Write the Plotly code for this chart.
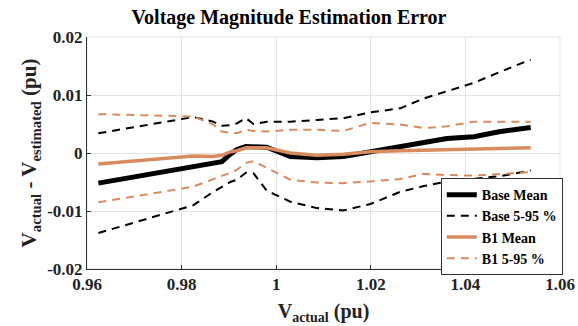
import plotly.graph_objects as go

v_actual = [0.9624, 0.9825, 0.9867, 0.9885, 0.9903, 0.9917, 0.9936, 0.9952, 0.998, 1.003,
            1.0086, 1.0142, 1.0199, 1.0262, 1.0312, 1.0361, 1.0418, 1.0474, 1.0538]
base_mean = [-0.0052, -0.0024, -0.0018, -0.0015, -0.0002, 0.0006, 0.0011, 0.0011, 0.0010, -0.0006,
             -0.0008, -0.0006, 0.0002, 0.0011, 0.0017, 0.0025, 0.0028, 0.0037, 0.0044]
base_p95 = [0.0034, 0.0062, 0.0054, 0.0047, 0.0048, 0.0051, 0.0060, 0.0050, 0.0054, 0.0054,
            0.0057, 0.0060, 0.0070, 0.0077, 0.0094, 0.0106, 0.0121, 0.0140, 0.0161]
base_p5 = [-0.0138, -0.0090, -0.0067, -0.0058, -0.0050, -0.0046, -0.0034, -0.0035, -0.0065, -0.0084,
           -0.0095, -0.0099, -0.0088, -0.0067, -0.0057, -0.0049, -0.0044, -0.0040, -0.0030]
b1_mean = [-0.0019, -0.0005, -0.0006, -0.0004, 0.0002, 0.0004, 0.0009, 0.0009, 0.0009, 0.0000,
           -0.0004, -0.0002, 0.0002, 0.0004, 0.0005, 0.0006, 0.0007, 0.0008, 0.0009]
b1_p95 = [0.0067, 0.0063, 0.0049, 0.0037, 0.0035, 0.0034, 0.0040, 0.0038, 0.0037, 0.0040,
          0.0040, 0.0038, 0.0052, 0.0049, 0.0043, 0.0046, 0.0054, 0.0054, 0.0054]
b1_p5 = [-0.0085, -0.0058, -0.0045, -0.0040, -0.0034, -0.0029, -0.0017, -0.0014, -0.0026, -0.0046,
         -0.0051, -0.0052, -0.0049, -0.0045, -0.0036, -0.0038, -0.0039, -0.0036, -0.0033]

x_ticks = [0.96, 0.98, 1.0, 1.02, 1.04, 1.06]
x_tick_text = ["0.96", "0.98", "1", "1.02", "1.04", "1.06"]
y_ticks = [-0.02, -0.01, 0.0, 0.01, 0.02]
y_tick_text = ["-0.02", "-0.01", "0", "0.01", "0.02"]

ORANGE = "#D98B5F"
FONT = "Liberation Serif"
DASH = "8px,6px"

fig = go.Figure()
fig.add_trace(go.Scatter(x=v_actual, y=base_mean, mode="lines", name="Base Mean",
                         line=dict(color="black", width=5)))
fig.add_trace(go.Scatter(x=v_actual, y=base_p95, mode="lines", name="Base 5-95 %",
                         line=dict(color="black", width=2, dash=DASH), legendgroup="b"))
fig.add_trace(go.Scatter(x=v_actual, y=base_p5, mode="lines", name="Base 5-95 %",
                         line=dict(color="black", width=2, dash=DASH), legendgroup="b", showlegend=False))
fig.add_trace(go.Scatter(x=v_actual, y=b1_mean, mode="lines", name="B1 Mean",
                         line=dict(color=ORANGE, width=3.5)))
fig.add_trace(go.Scatter(x=v_actual, y=b1_p95, mode="lines", name="B1 5-95 %",
                         line=dict(color=ORANGE, width=2, dash=DASH), legendgroup="o"))
fig.add_trace(go.Scatter(x=v_actual, y=b1_p5, mode="lines", name="B1 5-95 %",
                         line=dict(color=ORANGE, width=2, dash=DASH), legendgroup="o", showlegend=False))

fig.update_layout(
    width=578, height=326,
    margin=dict(l=87, r=18, t=37, b=57, autoexpand=False),
    paper_bgcolor="white", plot_bgcolor="white",
    font=dict(family=FONT, color="#222", size=15),
    title=dict(text="<b>Voltage Magnitude Estimation Error</b>", x=0.5, xanchor="center",
               y=0.948, yanchor="middle", font=dict(family=FONT, size=20, color="black")),
    showlegend=True,
    legend=dict(x=0.748, y=0.392, xanchor="left", yanchor="top",
                bgcolor="white", bordercolor="#333", borderwidth=1,
                font=dict(family=FONT, size=14, color="black", weight="bold"),
                tracegroupgap=0, itemwidth=30),
)
fig.update_xaxes(range=[0.96, 1.06], tickvals=x_ticks, ticktext=x_tick_text,
                 showgrid=True, gridcolor="#E3E3E3", gridwidth=1, automargin=False,
                 showline=True, linecolor="#333", linewidth=1, mirror=False,
                 ticks="inside", ticklen=4, tickcolor="#333",
                 tickfont=dict(family=FONT, size=17, color="#222", weight="bold"),
                 zeroline=False,
                 title=dict(text="<b>V<sub>actual</sub> (pu)</b>", standoff=10,
                            font=dict(family=FONT, size=20, color="#222")))
fig.update_yaxes(range=[-0.02, 0.02], tickvals=y_ticks, ticktext=y_tick_text,
                 showgrid=True, gridcolor="#E3E3E3", gridwidth=1, automargin=False,
                 showline=True, linecolor="#333", linewidth=1,
                 ticks="inside", ticklen=4, tickcolor="#333",
                 tickfont=dict(family=FONT, size=17, color="#222", weight="bold"),
                 zeroline=False,
                 title=dict(text="<b>V<sub>actual</sub> - V<sub>estimated</sub> (pu)</b>", standoff=4,
                            font=dict(family=FONT, size=21, color="#222")))
fig.add_shape(type="rect", xref="paper", yref="paper", x0=0, x1=1, y0=0, y1=1,
              line=dict(color="#E3E3E3", width=1), layer="below")

fig.write_html("out.html")
